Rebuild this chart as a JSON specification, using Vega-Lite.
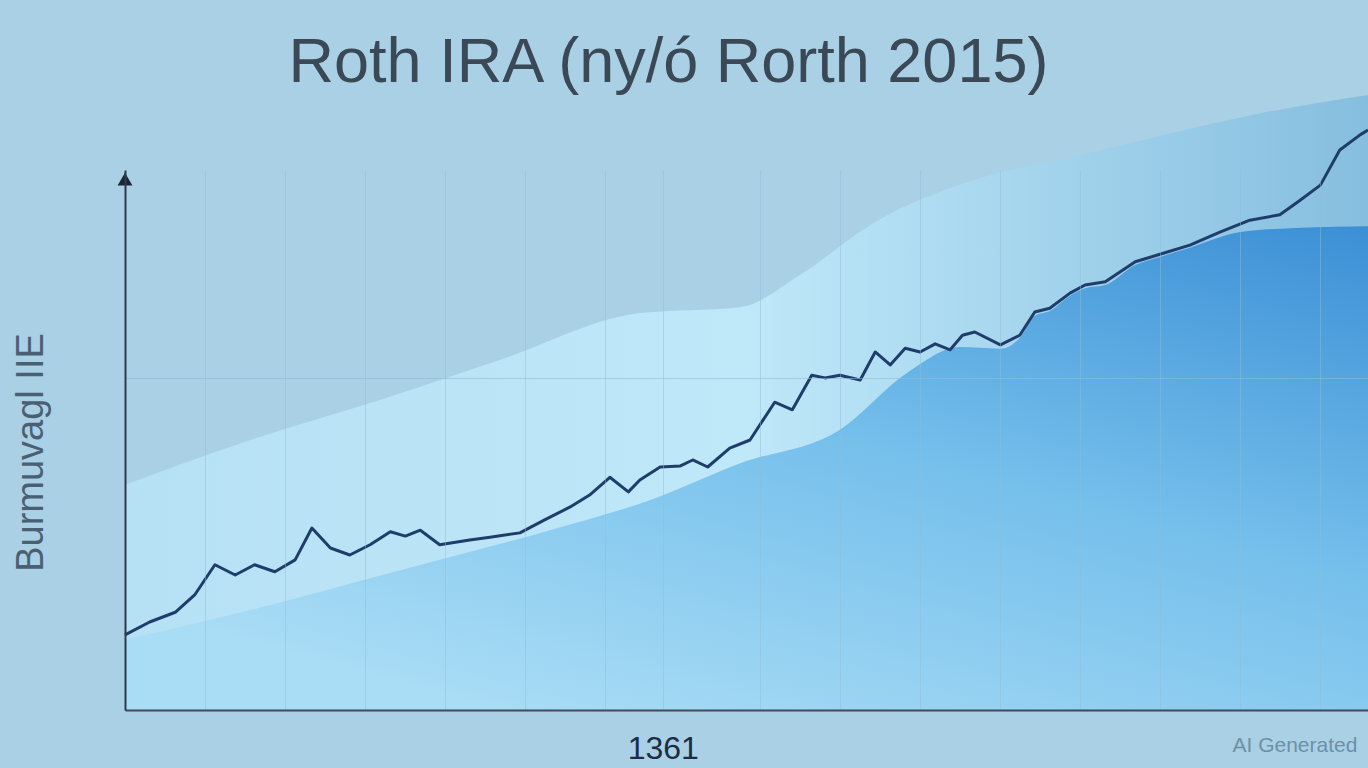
{
  "$schema": "https://vega.github.io/schema/vega-lite/v6.json",
  "width": 1243,
  "height": 540,
  "autosize": {"type": "none"},
  "padding": {"left": 125, "top": 170, "right": 0, "bottom": 58},
  "background": "#a9d0e4",
  "config": {"view": {"stroke": null}, "font": "Liberation Sans"},
  "title": {
    "text": "Roth IRA (ny/ó Rorth 2015)",
    "fontSize": 63,
    "fontWeight": "normal",
    "font": "Liberation Sans",
    "color": "#3b4856",
    "anchor": "middle",
    "dx": -78,
    "offset": 0
  },
  "datasets": {
    "light": [
      {"year": 1300, "v": 41.7}, {"year": 1314.2, "v": 50.0}, {"year": 1328.9, "v": 57.4},
      {"year": 1342.5, "v": 64.8}, {"year": 1358.4, "v": 73.5}, {"year": 1369.8, "v": 74.6},
      {"year": 1376.6, "v": 80.6}, {"year": 1384.9, "v": 90.2}, {"year": 1396.2, "v": 98.1},
      {"year": 1407.5, "v": 102.4}, {"year": 1418.9, "v": 106.9}, {"year": 1429.1, "v": 110.6},
      {"year": 1441, "v": 113.9}
    ],
    "dark": [
      {"year": 1300, "v": 13.0}, {"year": 1314.2, "v": 18.5}, {"year": 1331.2, "v": 25.9},
      {"year": 1348.2, "v": 33.3}, {"year": 1359.6, "v": 38.9}, {"year": 1369.8, "v": 45.7},
      {"year": 1381.1, "v": 51.9}, {"year": 1388.7, "v": 62.4}, {"year": 1394.7, "v": 67.2},
      {"year": 1399.3, "v": 66.9}, {"year": 1401.5, "v": 68.9}, {"year": 1403.2, "v": 73.0},
      {"year": 1404.9, "v": 73.9}, {"year": 1407.2, "v": 76.7}, {"year": 1408.9, "v": 78.1},
      {"year": 1411.2, "v": 78.7}, {"year": 1414.6, "v": 82.4}, {"year": 1417.4, "v": 83.9},
      {"year": 1420.8, "v": 85.6}, {"year": 1426.5, "v": 88.5}, {"year": 1433.3, "v": 89.3},
      {"year": 1441, "v": 89.6}
    ],
    "line": [
      {"year": 1300.0, "v": 13.9}, {"year": 1302.8, "v": 16.3}, {"year": 1305.7, "v": 18.1},
      {"year": 1307.9, "v": 21.3}, {"year": 1310.2, "v": 26.9}, {"year": 1312.5, "v": 25.0},
      {"year": 1314.7, "v": 26.9}, {"year": 1317.0, "v": 25.6}, {"year": 1319.3, "v": 27.8},
      {"year": 1321.2, "v": 33.7}, {"year": 1323.3, "v": 30.0}, {"year": 1325.5, "v": 28.7},
      {"year": 1327.8, "v": 30.6}, {"year": 1330.1, "v": 33.0}, {"year": 1331.8, "v": 32.2},
      {"year": 1333.5, "v": 33.3}, {"year": 1335.7, "v": 30.6}, {"year": 1339.1, "v": 31.5},
      {"year": 1341.4, "v": 32.0}, {"year": 1344.8, "v": 32.8}, {"year": 1347.6, "v": 35.2},
      {"year": 1350.5, "v": 37.6}, {"year": 1352.7, "v": 39.8}, {"year": 1355.0, "v": 43.1},
      {"year": 1357.1, "v": 40.4}, {"year": 1358.4, "v": 42.6}, {"year": 1360.7, "v": 45.0},
      {"year": 1363.0, "v": 45.2}, {"year": 1364.4, "v": 46.3}, {"year": 1366.1, "v": 45.0},
      {"year": 1368.6, "v": 48.5}, {"year": 1370.9, "v": 50.0}, {"year": 1373.7, "v": 57.0},
      {"year": 1375.7, "v": 55.6}, {"year": 1377.9, "v": 62.0}, {"year": 1379.4, "v": 61.5},
      {"year": 1381.1, "v": 62.0}, {"year": 1383.4, "v": 61.1}, {"year": 1385.1, "v": 66.3},
      {"year": 1386.8, "v": 63.9}, {"year": 1388.5, "v": 67.0}, {"year": 1390.2, "v": 66.3},
      {"year": 1391.9, "v": 67.8}, {"year": 1393.6, "v": 66.7}, {"year": 1395.0, "v": 69.4},
      {"year": 1396.4, "v": 70.0}, {"year": 1399.3, "v": 67.6}, {"year": 1401.5, "v": 69.4},
      {"year": 1403.2, "v": 73.7}, {"year": 1404.9, "v": 74.4}, {"year": 1407.2, "v": 77.2},
      {"year": 1408.9, "v": 78.7}, {"year": 1411.2, "v": 79.3}, {"year": 1414.6, "v": 83.0},
      {"year": 1417.4, "v": 84.4}, {"year": 1420.8, "v": 86.1}, {"year": 1424.2, "v": 88.5},
      {"year": 1427.6, "v": 90.7}, {"year": 1431.0, "v": 91.7}, {"year": 1433.3, "v": 94.4},
      {"year": 1435.6, "v": 97.2}, {"year": 1437.8, "v": 103.7}, {"year": 1440.1, "v": 106.5},
      {"year": 1441.0, "v": 107.4}
    ],
    "arrow": [{"year": 1300, "v": 98.3}],
    "note": [{"year": 1439.8, "v": -6.6, "label": "AI Generated"}]
  },
  "layer": [
    {
      "data": {"name": "light"},
      "mark": {
        "type": "area",
        "interpolate": "monotone",
        "color": {
          "gradient": "linear",
          "x1": 0, "y1": 0.5, "x2": 1, "y2": 0.5,
          "stops": [
            {"offset": 0, "color": "#b6e0f4"},
            {"offset": 0.5, "color": "#bfe8f9"},
            {"offset": 1, "color": "#86bedf"}
          ]
        }
      },
      "encoding": {
        "x": {
          "field": "year", "type": "quantitative",
          "scale": {"domain": [1300, 1441], "nice": false, "zero": false},
          "axis": {
            "zindex": 1,
            "values": [1309.1, 1318.2, 1327.2, 1336.3, 1345.4, 1354.5, 1361, 1372.0, 1381.1, 1390.2, 1399.3, 1408.3, 1417.4, 1426.5, 1435.6],
            "labelExpr": "datum.value == 1361 ? '1361' : ''",
            "title": null,
            "grid": true,
            "gridColor": "#8fbcd6",
            "gridOpacity": 0.45,
            "gridWidth": 1,
            "ticks": false,
            "domainColor": "#3d4b5a",
            "domainWidth": 2,
            "labelFontSize": 32,
            "labelColor": "#1d2c45",
            "labelPadding": 23,
            "labelFont": "Liberation Sans"
          }
        },
        "y": {
          "field": "v", "type": "quantitative",
          "scale": {"domain": [0, 100], "nice": false},
          "axis": {
            "zindex": 1,
            "values": [61.5],
            "labels": false,
            "ticks": false,
            "grid": true,
            "gridColor": "#8fbcd6",
            "gridOpacity": 0.6,
            "domainColor": "#2c3a4a",
            "domainWidth": 2,
            "title": "Burmuvagl IIE",
            "titleFontSize": 38,
            "titleFontWeight": "normal",
            "titleColor": "#2a3a4e",
            "titleAngle": -90,
            "titleX": -94,
            "titleY": 282,
            "titleAlign": "center",
            "titleBaseline": "middle",
            "titleOpacity": 0.75
          }
        }
      }
    },
    {
      "data": {"name": "dark"},
      "mark": {
        "type": "area",
        "interpolate": "monotone",
        "color": {
          "gradient": "linear",
          "x1": 1, "y1": 0, "x2": 0.3, "y2": 1,
          "stops": [
            {"offset": 0, "color": "#3b8fd5"},
            {"offset": 0.5, "color": "#76c0ec"},
            {"offset": 1, "color": "#a9dcf5"}
          ]
        }
      },
      "encoding": {
        "x": {"field": "year", "type": "quantitative"},
        "y": {"field": "v", "type": "quantitative"}
      }
    },
    {
      "data": {"name": "line"},
      "mark": {"type": "line", "color": "#1f3d6b", "strokeWidth": 3, "strokeJoin": "round"},
      "encoding": {
        "x": {"field": "year", "type": "quantitative"},
        "y": {"field": "v", "type": "quantitative"}
      }
    },
    {
      "data": {"name": "arrow"},
      "mark": {"type": "point", "shape": "triangle-up", "filled": true, "size": 220, "color": "#1a2636", "opacity": 1},
      "encoding": {
        "x": {"field": "year", "type": "quantitative"},
        "y": {"field": "v", "type": "quantitative"}
      }
    },
    {
      "data": {"name": "note"},
      "mark": {"type": "text", "align": "right", "baseline": "middle", "fontSize": 21, "color": "#6d90a8", "font": "Liberation Sans"},
      "encoding": {
        "x": {"field": "year", "type": "quantitative"},
        "y": {"field": "v", "type": "quantitative"},
        "text": {"field": "label"}
      }
    }
  ]
}
